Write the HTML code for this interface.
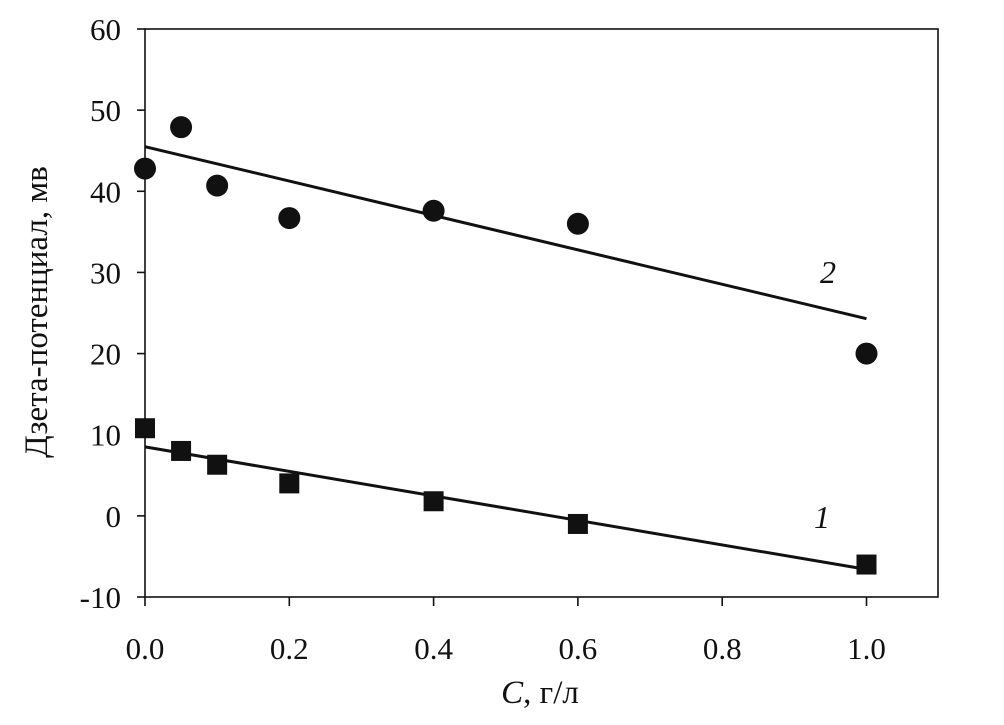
<!DOCTYPE html>
<html><head><meta charset="utf-8"><style>
body{margin:0;background:#fff;}
svg text{font-family:"Liberation Serif","Times New Roman",serif;fill:#111;}
</style></head><body>
<svg id="chart" width="1004" height="720" viewBox="0 0 1004 720"></svg>
<script>
const tickX=[0,0.2,0.4,0.6,0.8,1.0];
const tickXLabels=["0.0","0.2","0.4","0.6","0.8","1.0"];
const tickY=[-10,0,10,20,30,40,50,60];
const s1X=[0,0.05,0.1,0.2,0.4,0.6,1.0];
const s1Y=[10.8,8,6.3,4,1.8,-1,-6];
const s2X=[0,0.05,0.1,0.2,0.4,0.6,1.0];
const s2Y=[42.8,47.9,40.7,36.7,37.6,36,20];
const fit1=[8.5,-6.6];
const fit2=[45.5,24.3];
const L=145,R=938,T=29,B=597;
const x=v=>L+v*721.5;
const y=v=>B-(v+10)*(B-T)/70;
const svg=document.getElementById('chart');
const NS='http://www.w3.org/2000/svg';
function mk(tag,a,name){const e=document.createElementNS(NS,tag);for(const k in a)e.setAttribute(k,a[k]);


svg.appendChild(e);return e;}
mk('rect',{x:L,y:T,width:R-L,height:B-T,fill:'none',stroke:'#111','stroke-width':1.6},'plot-frame');
tickY.forEach(v=>{mk('line',{x1:L-8,x2:L,y1:y(v),y2:y(v),stroke:'#111','stroke-width':1.6},'y-tick');
const t=mk('text',{x:L-24,y:y(v)+11,'text-anchor':'end','font-size':31},'y-tick-label');t.textContent=v;});
tickX.forEach((v,i)=>{mk('line',{x1:x(v),x2:x(v),y1:B,y2:B+9,stroke:'#111','stroke-width':1.6},'x-tick');
const t=mk('text',{x:x(v),y:B+62,'text-anchor':'middle','font-size':31},'x-tick-label');t.textContent=tickXLabels[i];});
let t=mk('text',{x:540,y:703,'text-anchor':'middle','font-size':33},'x-axis-title');
t.innerHTML='<tspan font-style="italic">C</tspan>, г/л';
t=mk('text',{x:0,y:0,'text-anchor':'middle','font-size':33,transform:'translate(47,312) rotate(-90)'},'y-axis-title');
t.textContent='Дзета-потенциал, мв';
mk('line',{x1:x(0),y1:y(fit1[0]),x2:x(1),y2:y(fit1[1]),stroke:'#111','stroke-width':3},'trend-line-1');
mk('line',{x1:x(0),y1:y(fit2[0]),x2:x(1),y2:y(fit2[1]),stroke:'#111','stroke-width':3},'trend-line-2');
s1X.forEach((v,i)=>mk('rect',{x:x(v)-10,y:y(s1Y[i])-10,width:20,height:20,fill:'#111'},'series-1-point'));
s2X.forEach((v,i)=>mk('circle',{cx:x(v),cy:y(s2Y[i]),r:11,fill:'#111'},'series-2-point'));
t=mk('text',{x:828,y:283,'text-anchor':'middle','font-size':32,'font-style':'italic'},'series-2-label');t.textContent='2';
t=mk('text',{x:822,y:528,'text-anchor':'middle','font-size':32,'font-style':'italic'},'series-1-label');t.textContent='1';
</script>
</body></html>
